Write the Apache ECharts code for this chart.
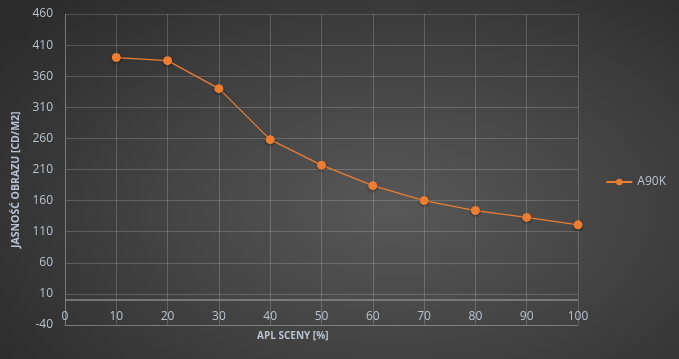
<!DOCTYPE html>
<html style="height: 100%">
<head>
<meta charset="utf-8">
<script src="https://cdn.jsdelivr.net/npm/echarts@6/dist/echarts.min.js"></script>
</head>
<body style="height: 100%; margin: 0">
<div id="container" style="width: 679px; height: 359px; background: radial-gradient(ellipse 70% 80% at 58% 58%, #585858 0%, #454545 45%, #2c2c2c 100%);"></div>
<script type="text/javascript">
// APL sceny vs jasnosc obrazu
var categories = [10, 20, 30, 40, 50, 60, 70, 80, 90, 100];
var seriesName = 'A90K';
var brightness = [390, 385, 340, 258, 217, 184, 160, 144, 133, 121];
var yTicks = { min: -40, max: 460, step: 50 };
var xTicks = { min: 0, max: 100, step: 10 };

var labelColor = '#b9c2cf';
var gridColor = 'rgba(255,255,255,0.18)';
var fontFamily = '"Open Sans", "Noto Sans", sans-serif';

var dom = document.getElementById('container');
var myChart = echarts.init(dom);

var points = categories.map(function (c, i) { return [c, brightness[i]]; });

var option = {
    backgroundColor: 'transparent',
    animation: false,
    textStyle: { fontFamily: fontFamily },
    grid: { left: 65, right: 101, top: 14, bottom: 34 },
    legend: {
        right: 8,
        top: 171,
        itemWidth: 26,
        itemHeight: 8,
        itemGap: 4,
        textStyle: { color: labelColor, fontSize: 12, fontFamily: fontFamily },
        data: [seriesName]
    },
    xAxis: {
        type: 'value',
        min: xTicks.min,
        max: xTicks.max,
        interval: xTicks.step,
        axisLine: { show: true, onZero: false, lineStyle: { color: gridColor } },
        axisTick: { show: false },
        axisLabel: { color: labelColor, fontSize: 12, inside: true, margin: 2 },
        splitLine: { show: true, lineStyle: { color: gridColor } }
    },
    yAxis: {
        type: 'value',
        min: yTicks.min,
        max: yTicks.max,
        interval: yTicks.step,
        axisLine: { show: true, lineStyle: { color: '#7a7a7a' } },
        axisTick: { show: false },
        axisLabel: { color: labelColor, fontSize: 12, margin: 12 },
        splitLine: { show: true, lineStyle: { color: gridColor } }
    },
    graphic: [
        {
            type: 'text',
            left: 257,
            top: 331,
            style: { text: 'APL SCENY [%]', fill: labelColor, font: 'bold 10px ' + fontFamily }
        },
        {
            type: 'text',
            x: 11,
            y: 248,
            rotation: Math.PI / 2,
            style: { text: 'JASNOŚĆ OBRAZU [CD/M2]', fill: labelColor, font: 'bold 10.5px ' + fontFamily }
        }
    ],
    series: [{
        name: seriesName,
        type: 'line',
        data: points,
        symbol: 'circle',
        symbolSize: 9,
        lineStyle: { color: '#ed7d31', width: 1.2 },
        itemStyle: {
            color: '#ed7d31',
            shadowColor: 'rgba(0,0,0,0.5)',
            shadowBlur: 3,
            shadowOffsetY: 1
        },
        markLine: {
            silent: true,
            symbol: 'none',
            label: { show: false },
            lineStyle: { color: '#8a8a8a', width: 1.5, type: 'solid' },
            data: [{ yAxis: 0 }]
        }
    }]
};

myChart.setOption(option);
</script>
</body>
</html>
